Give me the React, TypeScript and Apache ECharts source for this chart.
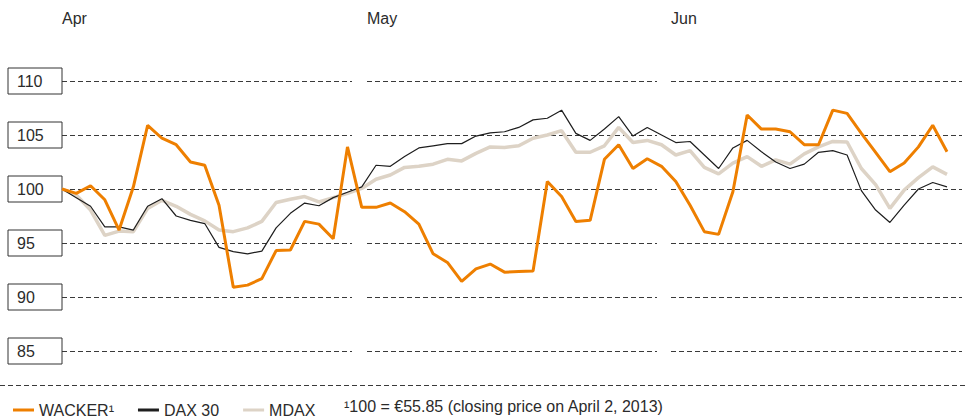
import React, { useEffect, useRef } from "react";
import * as echarts from "echarts";

const tradingDays = [
  "2013-04-02", "2013-04-03", "2013-04-04", "2013-04-05", "2013-04-08", "2013-04-09", "2013-04-10",
  "2013-04-11", "2013-04-12", "2013-04-15", "2013-04-16", "2013-04-17", "2013-04-18", "2013-04-19",
  "2013-04-22", "2013-04-23", "2013-04-24", "2013-04-25", "2013-04-26", "2013-04-29", "2013-04-30",
  "2013-05-02", "2013-05-03", "2013-05-06", "2013-05-07", "2013-05-08", "2013-05-09", "2013-05-10",
  "2013-05-13", "2013-05-14", "2013-05-15", "2013-05-16", "2013-05-17", "2013-05-20", "2013-05-21",
  "2013-05-22", "2013-05-23", "2013-05-24", "2013-05-27", "2013-05-28", "2013-05-29", "2013-05-30",
  "2013-05-31", "2013-06-03", "2013-06-04", "2013-06-05", "2013-06-06", "2013-06-07", "2013-06-10",
  "2013-06-11", "2013-06-12", "2013-06-13", "2013-06-14", "2013-06-17", "2013-06-18", "2013-06-19",
  "2013-06-20", "2013-06-21", "2013-06-24", "2013-06-25", "2013-06-26", "2013-06-27", "2013-06-28",
];

const wacker = [
  100, 99.6, 100.3, 99.0, 96.2, 100.2, 105.9, 104.7, 104.1, 102.5, 102.2,
  98.5, 90.9, 91.1, 91.7, 94.3, 94.35, 97.0, 96.75, 95.4, 103.9,
  98.3, 98.3, 98.7, 97.9, 96.75, 94.0, 93.2, 91.45, 92.6, 93.05,
  92.3, 92.35, 92.4, 100.7, 99.3, 97.0, 97.1, 102.75, 104.1, 101.9,
  102.8, 102.1, 100.7, 98.5, 96.05, 95.8, 99.75, 106.85, 105.55, 105.55,
  105.3, 104.1, 104.1, 107.3, 107.0, 105.15, 103.4, 101.6, 102.4, 103.9,
  105.9, 103.45,
];

const dax30 = [
  100, 99.2, 98.4, 96.5, 96.5, 96.2, 98.4, 99.1, 97.5, 97.1, 96.8,
  94.6, 94.2, 94.0, 94.25, 96.4, 97.75, 98.7, 98.45, 99.2, 99.7,
  100.2, 102.2, 102.1, 103.0, 103.8, 104.0, 104.2, 104.2, 104.9, 105.2,
  105.3, 105.7, 106.4, 106.55, 107.3, 105.15, 104.5, 105.55, 106.7, 104.9,
  105.7, 105.0, 104.3, 104.4, 103.15, 101.9, 103.8, 104.5, 103.45, 102.5,
  101.9, 102.3, 103.4, 103.55, 103.15, 99.85, 98.05, 96.9, 98.5, 100.0,
  100.6, 100.2,
];

const mdax = [
  100, 99.45, 98.05, 95.7, 96.1, 96.05, 98.2, 98.95, 98.4, 97.65, 97.05,
  96.2, 96.05, 96.4, 97.0, 98.75, 99.05, 99.3, 98.8, 99.2, 99.6,
  100.05, 100.9, 101.3, 102.0, 102.1, 102.3, 102.75, 102.6, 103.3, 103.9,
  103.85, 104.0, 104.7, 105.0, 105.4, 103.4, 103.4, 104.0, 105.7, 104.3,
  104.5, 104.1, 103.15, 103.55, 102.0, 101.4, 102.4, 103.0, 102.1, 102.7,
  102.3, 103.25, 103.9, 104.4, 104.35, 101.9, 100.4, 98.2, 99.9, 101.05,
  102.05, 101.35,
];

const months = ["Apr", "May", "Jun"];
const yTicks = [85, 90, 95, 100, 105, 110];
const seriesNames = ["WACKER¹", "DAX 30", "MDAX"];
const footnote = "¹100 = €55.85 (closing price on April 2, 2013)";

const FONT = "'Liberation Sans', Arial, Helvetica, sans-serif";
const TEXT = "#2b2b2b";
const ORANGE = "#EE7F00";
const BLACK = "#1e1e1e";
const BEIGE = "#DDD3C6";

export default function App() {
  const ref = useRef<HTMLDivElement>(null);

  useEffect(() => {
    document.body.style.margin = "0";
    if (!ref.current) return;
    const chart = echarts.init(ref.current, undefined, { renderer: "svg" });

    const gridTop = 81;
    const gridBottom = 68;
    const panels = [
      { left: 62, width: 290 },
      { left: 367, width: 290 },
      { left: 671, width: 291 },
    ];
    const yMin = yTicks[0];
    const yMax = yTicks[yTicks.length - 1];
    const yStep = yTicks[1] - yTicks[0];

    const option: any = {
      animation: false,
      textStyle: { fontFamily: FONT },
      grid: [
        { left: 62, right: 18, top: gridTop, bottom: gridBottom },
        ...panels.map((p) => ({ left: p.left, width: p.width, top: gridTop, bottom: gridBottom })),
      ],
      xAxis: [
        {
          gridIndex: 0,
          type: "category",
          data: tradingDays,
          boundaryGap: false,
          show: false,
        },
        ...months.map((m, i) => ({
          gridIndex: i + 1,
          type: "value",
          min: 0,
          max: 1,
          interval: 1,
          position: "top",
          axisLine: { show: false },
          axisTick: { show: false },
          splitLine: { show: false },
          axisLabel: {
            formatter: (v: number) => (v === 0 ? m : ""),
            align: "left",
            margin: 55,
            color: TEXT,
            fontSize: 16,
            fontFamily: FONT,
          },
        })),
      ],
      yAxis: [
        {
          gridIndex: 0,
          type: "value",
          min: yMin,
          max: yMax,
          interval: yStep,
          axisLine: { show: false },
          axisTick: { show: false },
          splitLine: { show: false },
          axisLabel: {
            align: "left",
            margin: 54,
            width: 45,
            padding: [5, 0, 5, 9],
            lineHeight: 16,
            borderColor: "#333",
            borderWidth: 1,
            color: TEXT,
            fontSize: 16,
            fontFamily: FONT,
          },
        },
        ...panels.map((_, i) => ({
          gridIndex: i + 1,
          type: "value",
          min: yMin,
          max: yMax,
          interval: yStep,
          axisLine: { show: false },
          axisTick: { show: false },
          axisLabel: { show: false },
          splitLine: {
            show: true,
            lineStyle: { type: [5, 3], color: "#3a3a3a", width: 1 },
          },
        })),
      ],
      legend: {
        left: 8,
        top: 397,
        icon: "rect",
        itemWidth: 21,
        itemHeight: 3,
        itemGap: 24,
        data: seriesNames,
        textStyle: { color: TEXT, fontSize: 16, fontFamily: FONT },
      },
      graphic: [
        {
          type: "line",
          shape: { x1: 0, y1: 385.5, x2: 965, y2: 385.5 },
          style: { stroke: "#3a3a3a", lineDash: [5, 3], lineWidth: 1 },
        },
        {
          type: "text",
          left: 344,
          top: 398,
          style: { text: footnote, fontSize: 16, fill: TEXT, fontFamily: FONT },
        },
      ],
      series: [
        {
          name: seriesNames[2],
          type: "line",
          data: mdax,
          xAxisIndex: 0,
          yAxisIndex: 0,
          symbol: "none",
          lineStyle: { color: BEIGE, width: 3.5 },
          itemStyle: { color: BEIGE },
        },
        {
          name: seriesNames[1],
          type: "line",
          data: dax30,
          xAxisIndex: 0,
          yAxisIndex: 0,
          symbol: "none",
          lineStyle: { color: BLACK, width: 1.2 },
          itemStyle: { color: BLACK },
        },
        {
          name: seriesNames[0],
          type: "line",
          data: wacker,
          xAxisIndex: 0,
          yAxisIndex: 0,
          symbol: "none",
          lineStyle: { color: ORANGE, width: 3 },
          itemStyle: { color: ORANGE },
        },
      ],
    };

    chart.setOption(option);
    return () => chart.dispose();
  }, []);

  return <div ref={ref} style={{ width: 965, height: 419 }} />;
}
